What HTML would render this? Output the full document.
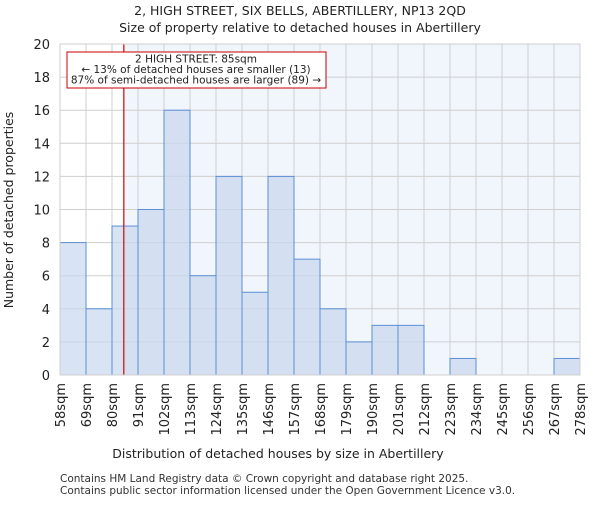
<!DOCTYPE html>
<html><head><meta charset="utf-8"><style>body{margin:0;background:#fff}svg{font-family:"DejaVu Sans","Liberation Sans",sans-serif}</style></head>
<body>
<svg id="c" width="600" height="500" xmlns="http://www.w3.org/2000/svg">
<text x="300" y="15" text-anchor="middle" font-size="12.5" fill="#222">2, HIGH STREET, SIX BELLS, ABERTILLERY, NP13 2QD</text>
<text x="300" y="32" text-anchor="middle" font-size="12.5" fill="#222">Size of property relative to detached houses in Abertillery</text>
<g id="plot"></g>
<text x="278" y="458" text-anchor="middle" font-size="12.5" fill="#222">Distribution of detached houses by size in Abertillery</text>
<text transform="translate(13,210) rotate(-90)" text-anchor="middle" font-size="12.5" fill="#222">Number of detached properties</text>
<text x="60" y="482" font-size="10.5" fill="#333">Contains HM Land Registry data © Crown copyright and database right 2025.</text>
<text x="60" y="494" font-size="10.5" fill="#333">Contains public sector information licensed under the Open Government Licence v3.0.</text>
</svg>
<script>
const categories=["58sqm","69sqm","80sqm","91sqm","102sqm","113sqm","124sqm","135sqm","146sqm","157sqm","168sqm","179sqm","190sqm","201sqm","212sqm","223sqm","234sqm","245sqm","256sqm","267sqm","278sqm"];
const binStarts=[58,69,80,91,102,113,124,135,146,157,168,179,190,201,212,223,234,245,256,267];
const counts=[8,4,9,10,16,6,12,5,12,7,4,2,3,3,0,1,0,0,0,1];
const yTicks=[0,2,4,6,8,10,12,14,16,18,20];
const subjectSize=85;
const NS="http://www.w3.org/2000/svg";
const L=60,R=580,T=44,B=375,xMin=58,xMax=278,yMax=20;
const xs=v=>L+(v-xMin)/(xMax-xMin)*(R-L);
const ys=v=>B-v/yMax*(B-T);
const g=document.getElementById('plot');
function el(t,a){const e=document.createElementNS(NS,t);for(const k in a)e.setAttribute(k,a[k]);g.appendChild(e);return e;}
let e;
e=el('rect',{x:L,y:T,width:R-L,height:B-T,fill:'#fff'});


e=el('rect',{x:xs(subjectSize),y:T,width:R-xs(subjectSize),height:B-T,fill:'#f1f5fc'});


yTicks.forEach(t=>{
 e=el('line',{x1:L,x2:R,y1:ys(t),y2:ys(t),stroke:'#cfcfcf','stroke-width':1});
 
 
 e=el('text',{x:L-10,y:ys(t)+5,'text-anchor':'end','font-size':13,fill:'#222'});
 e.textContent=t;
 
 
});
categories.forEach((c,i)=>{
 const v=xMin+i*11,x=xs(v);
 e=el('line',{x1:x,x2:x,y1:T,y2:B,stroke:'#cfcfcf','stroke-width':1});
 
 
 e=el('text',{transform:`translate(${x+5},${B+8}) rotate(-90)`,'text-anchor':'end','font-size':13,fill:'#222'});
 e.textContent=c;
 
 
});
counts.forEach((n,i)=>{
 const x0=xs(binStarts[i]),x1=xs(binStarts[i]+11);
 e=el('rect',{x:x0,y:ys(n),width:x1-x0,height:B-ys(n),fill:'rgba(200,215,238,0.7)',stroke:'#5b8fd6','stroke-width':1});
 
 
});
e=el('line',{x1:xs(subjectSize),x2:xs(subjectSize),y1:T,y2:B,stroke:'#d00','stroke-width':1.2});


e=el('rect',{x:67,y:52,width:259,height:36,fill:'#fff',stroke:'#c00','stroke-width':1});


["2 HIGH STREET: 85sqm","← 13% of detached houses are smaller (13)","87% of semi-detached houses are larger (89) →"].forEach((s,i)=>{
 e=el('text',{x:196,y:62.5+i*10.5,'text-anchor':'middle','font-size':10.5,fill:'#222'});
 e.textContent=s;
 
 
});
e=el('rect',{x:L,y:T,width:R-L,height:B-T,fill:'none',stroke:'#cfcfcf'});


</script>
</body></html>
